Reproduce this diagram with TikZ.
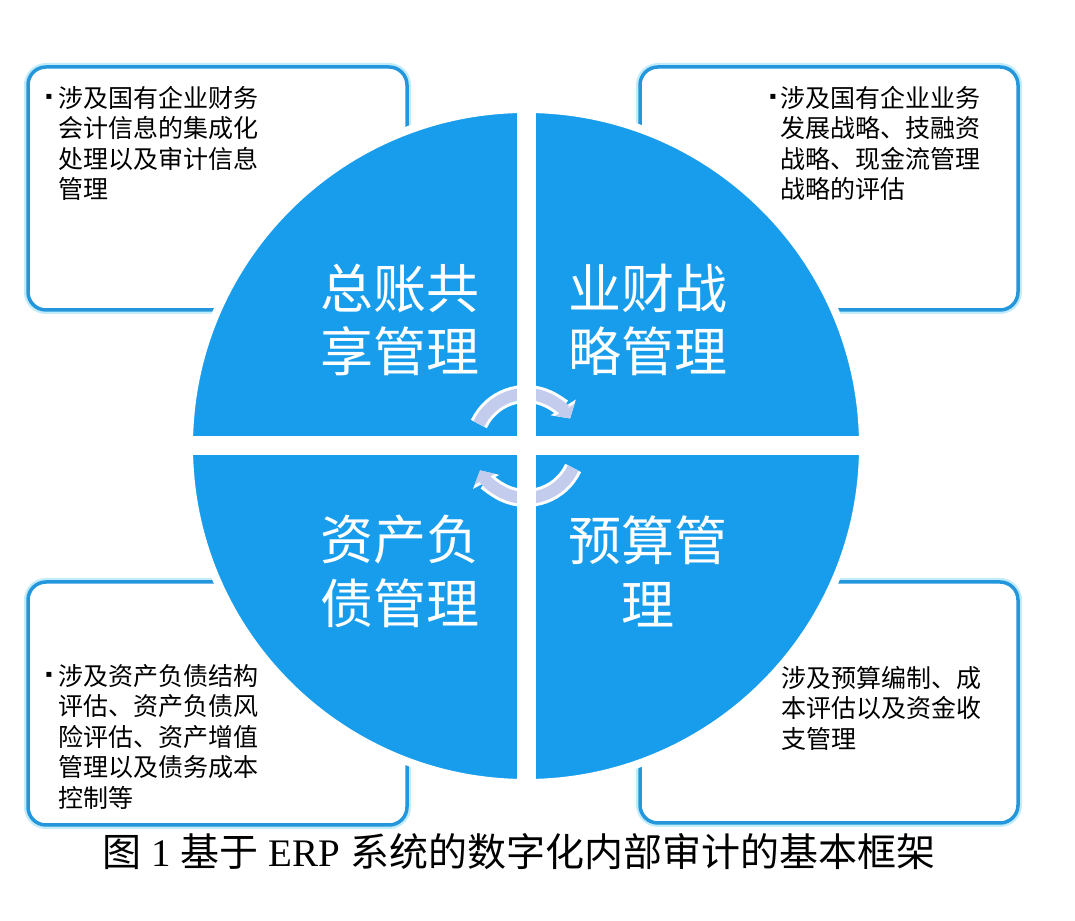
\documentclass[tikz,border=0pt]{standalone}
\usepackage{fontspec}
\setmainfont{Liberation Serif}
\newfontfamily\cjkfont{Noto Sans CJK SC}
\newfontfamily\symfont{DejaVu Sans}
\usetikzlibrary{arrows.meta}
\definecolor{discblue}{RGB}{24,157,236}
\definecolor{boxblue}{RGB}{35,150,220}
\definecolor{boxglow}{RGB}{195,236,250}
\definecolor{arrowfill}{RGB}{196,204,238}
\begin{document}
\begin{tikzpicture}[x=1pt,y=1pt,
  infobox/.style={draw=boxblue, line width=3.5pt, rounded corners=18pt, fill=white,
    preaction={draw=boxglow, line width=8pt}, inner sep=0pt},
  disc/.style={circle, fill=discblue, draw=white, line width=8pt, inner sep=0pt, minimum size=674pt},
  boxtext/.style={font=\fontsize{25}{30.5}\selectfont\cjkfont, align=left, anchor=north west, inner sep=0pt, text=black},
  quadtext/.style={font=\fontsize{53}{63.5}\selectfont\cjkfont, align=center, text=white, inner sep=0pt},
  bulletmark/.style={font=\fontsize{10}{10}\selectfont\symfont, inner sep=0pt},
  cyclearc/.style={line width=12pt, draw=arrowfill, -{Triangle[width=22pt,length=10pt]}},
  cyclehalo/.style={line width=18pt, draw=white, -{Triangle[width=29pt,length=13pt]}},
  band/.style={fill=white},
]
\fill[white] (0,0) rectangle (1075,920);
\useasboundingbox (0,0) rectangle (1075,920);

% info boxes
\node[infobox, minimum width=379pt, minimum height=243pt] (tlbox) at (217.5,731.5) {};
\node[infobox, minimum width=378pt, minimum height=243pt] (trbox) at (829,731.5) {};
\node[infobox, minimum width=379pt, minimum height=243pt] (blbox) at (217.5,216.5) {};
\node[infobox, minimum width=378pt, minimum height=241pt] (brbox) at (829,217.5) {};

% central disc
\node[disc] (disc) at (526,474) {};

% cycle arrows
\draw[cyclehalo] (disc.center) ++(155:52) arc[start angle=155, end angle=32, radius=52];
\draw[cyclearc]  (disc.center) ++(155:52) arc[start angle=155, end angle=32, radius=52];
\draw[cyclehalo] (disc.center) ++(-25:52) arc[start angle=-25, end angle=-152, radius=52];
\draw[cyclearc]  (disc.center) ++(-25:52) arc[start angle=-25, end angle=-152, radius=52];

% white bands splitting the disc
\fill[band] (516.5,130) rectangle (535.5,818);
\fill[band] (180,464.5) rectangle (872,483.5);

% quadrant titles
\node[quadtext] (tlq) at (400,600) {总账共\\享管理};
\node[quadtext] (trq) at (648,600) {业财战\\略管理};
\node[quadtext] (blq) at (400,348.5) {资产负\\债管理};
\node[quadtext] (brq) at (648,348.5) {预算管\\理};

% box texts
\node[bulletmark] (tlb) at (49,823) {▪};
\node[boxtext] (tlt) at (58,834) {涉及国有企业财务\\会计信息的集成化\\处理以及审计信息\\管理};
\node[bulletmark] (trb) at (773,823) {▪};
\node[boxtext] (trt) at (780,834) {涉及国有企业业务\\发展战略、技融资\\战略、现金流管理\\战略的评估};
\node[bulletmark] (blb) at (49,245) {▪};
\node[boxtext] (blt) at (58,256) {涉及资产负债结构\\评估、资产负债风\\险评估、资产增值\\管理以及债务成本\\控制等};
\node[boxtext] (brt) at (781,254) {涉及预算编制、成\\本评估以及资金收\\支管理};

% caption
\node[font=\fontsize{39}{45}\selectfont, inner sep=0pt] (caption) at (519,68)
  {{\cjkfont 图}\ 1\ {\cjkfont 基于}\ ERP\ {\cjkfont 系统的数字化内部审计的基本框架}};
\end{tikzpicture}
\end{document}
